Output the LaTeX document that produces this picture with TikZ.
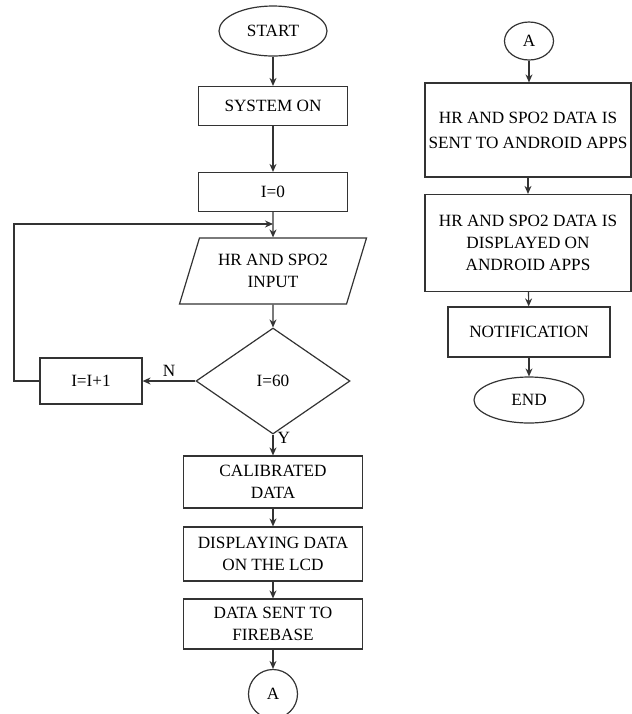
\documentclass[tikz,border=0pt]{standalone}
\usepackage{fontspec}
\setmainfont{Liberation Serif}
\usetikzlibrary{arrows.meta,shapes.geometric,positioning}

\begin{document}
\begin{tikzpicture}[x=0.5pt,y=-0.5pt,font=\fontsize{8.6}{11}\selectfont]
\useasboundingbox (0,0) rectangle (632,714);
\begin{scope}[every node/.style={draw=black!80,line width=0.6pt,align=center,inner sep=1pt}]
    % left column
    \node[ellipse,minimum width=54pt,minimum height=25pt] (start) at (273,31) {START};
    \node[minimum width=74.5pt,minimum height=19.5pt] (sys) at (273,106) {SYSTEM ON};
    \node[minimum width=74.5pt,minimum height=19.5pt] (init) at (273,192) {I=0};
    \node[trapezium,trapezium left angle=62,trapezium right angle=118,trapezium stretches body,
          minimum width=93.5pt,minimum height=33pt] (input) at (273,271) {HR AND SPO2\\INPUT};
    \node[diamond,minimum width=77pt,minimum height=53pt,inner sep=0pt] (dec) at (273,381) {I=60};
    \node[minimum width=51pt,minimum height=23pt] (inc) at (91,381) {I=I+1};
    \node[minimum width=89.5pt,minimum height=26pt] (cal) at (273,482) {CALIBRATED\\DATA};
    \node[minimum width=89.5pt,minimum height=27pt] (disp) at (273,554) {DISPLAYING DATA\\ON THE LCD};
    \node[minimum width=89.5pt,minimum height=25pt] (fire) at (273,624) {DATA SENT TO\\FIREBASE};
    \node[circle,minimum size=24.5pt] (conA) at (273,694) {A};
    % right column
    \node[ellipse,minimum width=24.5pt,minimum height=19pt] (conB) at (529,41) {A};
    \node[minimum width=103pt,minimum height=47pt] (sent) at (528,130) {HR AND SPO2 DATA IS\\[1.5pt]SENT TO ANDROID APPS};
    \node[minimum width=103pt,minimum height=48.5pt] (show) at (528,243) {HR AND SPO2 DATA IS\\DISPLAYED ON\\ANDROID APPS};
    \node[minimum width=81pt,minimum height=25pt] (notif) at (529,332) {NOTIFICATION};
    \node[ellipse,minimum width=55pt,minimum height=23pt] (end) at (529,400) {END};
\end{scope}

\coordinate (loop) at (14,224);
\coordinate (join) at (273,224);

\begin{scope}[>={Stealth[length=4pt,width=3.5pt]},
              every node/.style={inner sep=2pt},
              every edge/.style={draw=black!80,line width=0.6pt,->}]
    \path (start) edge (sys);
    \path (sys) edge (init);
    \path (init) edge (input);
    \path (input) edge (dec);
    \path (dec) edge node[above] {N} (inc);
    \path (dec) edge node[pos=0.15,right] {Y} (cal);
    \path (cal) edge (disp);
    \path (disp) edge (fire);
    \path (fire) edge (conA);
    \path (conB) edge (conB |- sent.north);
    \path (sent) edge (show);
    \path (show) edge (notif);
    \path (notif) edge (end);
    \draw[draw=black!80,line width=0.6pt,->] (inc.west) -| (loop) -- (join);
\end{scope}
\end{tikzpicture}
\end{document}
